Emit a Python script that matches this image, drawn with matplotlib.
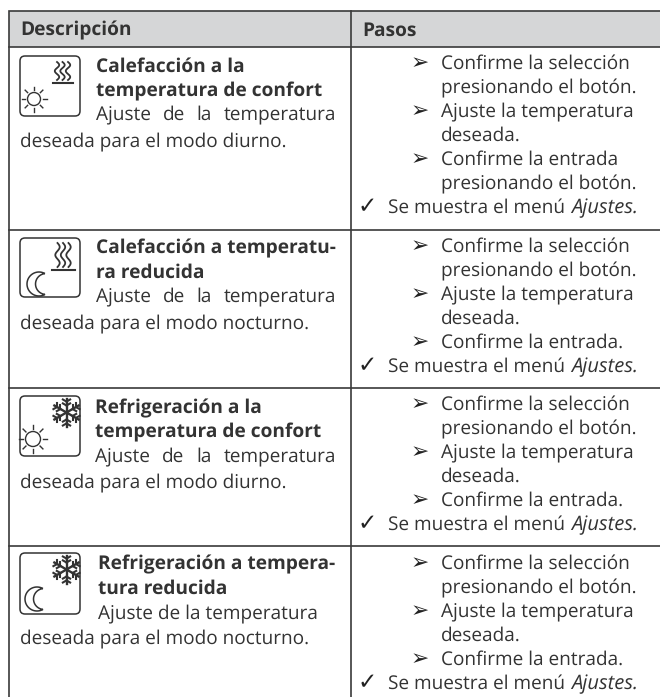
import numpy as np
import matplotlib
matplotlib.use("Agg")
import matplotlib.pyplot as plt
from matplotlib.patches import FancyBboxPatch, Rectangle, Circle, PathPatch
from matplotlib.path import Path

plt.rcParams['font.family'] = ['Open Sans', 'DejaVu Sans']
plt.rcParams['text.hinting'] = 'none'

# table content
headers = ["Descripción", "Pasos"]
titles = [
    ["Calefacción a la", "temperatura de confort"],
    ["Calefacción a temperatu-", "ra reducida"],
    ["Refrigeración a la", "temperatura de confort"],
    ["Refrigeración a tempera-", "tura reducida"],
]
adjust_lines = ["Ajuste de la temperatura"] * 4
mode_lines = [
    "deseada para el modo diurno.",
    "deseada para el modo nocturno.",
    "deseada para el modo diurno.",
    "deseada para el modo nocturno.",
]
steps = [
    [">Confirme la selección", " presionando el botón.", ">Ajuste la temperatura", " deseada.",
     ">Confirme la entrada", " presionando el botón."],
    [">Confirme la selección", " presionando el botón.", ">Ajuste la temperatura", " deseada.",
     ">Confirme la entrada."],
    [">Confirme la selección", " presionando el botón.", ">Ajuste la temperatura", " deseada.",
     ">Confirme la entrada."],
    [">Confirme la selección", " presionando el botón.", ">Ajuste la temperatura", " deseada.",
     ">Confirme la entrada."],
]
result_text = "Se muestra el menú "
result_italic = "Ajustes."
icon_top = ["heat", "heat", "snow", "snow"]
icon_bottom = ["sun", "moon", "sun", "moon"]

# layout in pixels
W, H = 660, 697
INK = "#333333"
LINE = "#3a3a3a"
FS = 13.7
FS_BOLD = 13.8
left_x, mid_x = 9, 351
top_y, head_y = 11, 47
row_seps = [229.5, 387.5, 545.5]
box_tops = [56, 238, 396, 553]
box_h = [60, 59, 60, 61]
title_x = [96, 96, 95, 98]
title_y = [[71.5, 96], [253.5, 277.5], [413.5, 437], [569, 594]]
adjust_y = [120, 302, 462, 619]
mode_y = [146.5, 328.5, 487.5, 643.5]
step_y0 = [69, 252, 410, 569]
step_dy = 24.05
justified = [True, True, True, False]
moon_x = [0, 39, 0, 37]

fig = plt.figure(figsize=(W / 100, H / 100), dpi=100)
ax = fig.add_axes([0, 0, 1, 1])
ax.set_xlim(0, W)
ax.set_ylim(H, 0)
ax.axis("off")

# header and grid
ax.add_patch(Rectangle((left_x, top_y), W - left_x, head_y - top_y, fc="#d5d6d7", ec="none", zorder=0))
ax.plot([W, left_x, left_x], [top_y, top_y, H], color=LINE, lw=1.2, solid_joinstyle="miter")
ax.plot([mid_x, mid_x], [top_y, H], color=LINE, lw=1.2)
for y in [head_y] + row_seps:
    ax.plot([left_x, W], [y, y], color=LINE, lw=1.2)

ax.text(20, 35.5, headers[0], fontsize=FS_BOLD, fontweight="bold", color=INK)
ax.text(362, 35.5, headers[1], fontsize=FS_BOLD, fontweight="bold", color=INK)

renderer = fig.canvas.get_renderer()


def text_width(artist):
    box = artist.get_window_extent(renderer)
    return box.width


def justify(words, x0, x1, y):
    arts = [ax.text(x0, y, w, fontsize=FS, color=INK) for w in words]
    widths = [text_width(a) for a in arts]
    gap = (x1 - x0 - sum(widths)) / (len(words) - 1)
    x = x0
    for a, w in zip(arts, widths):
        a.set_x(x)
        x += w + gap


def draw_heat(x, y, big):
    # three waves and a bar, y is the top of the waves
    h = 24 if big else 18
    bar = 23 if big else 20
    t = np.linspace(0, 1, 60)
    for dx in (-5.5, 0, 5.5):
        ax.plot(x + dx + 2.2 * np.sin(t * 3 * np.pi), y + t * h, color=INK, lw=1.3)
    ax.plot([x - bar / 2, x + bar / 2], [y + h + 2.5, y + h + 2.5], color=INK, lw=1.5)


def draw_sun(x, y, r, ray):
    ax.add_patch(Circle((x, y), r, fc="none", ec=INK, lw=1.0))
    for a in np.arange(8) * np.pi / 4:
        ax.plot([x + (r + 2.5) * np.cos(a), x + ray * np.cos(a)],
                [y + (r + 2.5) * np.sin(a), y + ray * np.sin(a)], color=INK, lw=1.0)


def draw_moon(x, y, r):
    # crescent from two arcs that meet at the horns on the right
    a1 = np.linspace(np.radians(-60), np.radians(-300), 40)
    a2 = np.linspace(np.radians(-264.5), np.radians(-95.5), 40)
    outer = np.c_[x + r * np.cos(a1), y + r * np.sin(a1)]
    inner = np.c_[x + r * 0.58 + r * 0.87 * np.cos(a2), y + r * 0.87 * np.sin(a2)]
    pts = np.vstack([outer, inner, outer[:1]])
    ax.add_patch(PathPatch(Path(pts), fc="none", ec=INK, lw=1.1))


def draw_snow(x, y, r):
    for a in np.arange(6) * np.pi / 3 + np.pi / 6:
        ax.plot([x, x + r * np.cos(a)], [y, y + r * np.sin(a)], color=INK, lw=1.7)
        for f in (0.5, 0.78):
            bx, by = x + f * r * np.cos(a), y + f * r * np.sin(a)
            for s in (-1, 1):
                ax.plot([bx, bx + 0.3 * r * np.cos(a + s * np.pi / 3)],
                        [by, by + 0.3 * r * np.sin(a + s * np.pi / 3)], color=INK, lw=1.5)


for i in range(4):
    # icon box
    ax.add_patch(FancyBboxPatch((20 + 4, box_tops[i] + 4), 52, box_h[i] - 8,
                                boxstyle="round,pad=4,rounding_size=5",
                                fc="none", ec=INK, lw=1.1))
    if icon_top[i] == "heat":
        if i == 0:
            draw_heat(62.5, box_tops[i] + 6, False)
        else:
            draw_heat(63, box_tops[i] + 5, True)
    else:
        draw_snow(66.5, box_tops[i] + 16.5, 14)
    if icon_bottom[i] == "sun":
        if i == 0:
            draw_sun(34, box_tops[i] + 43, 6.5, 12.5)
        else:
            draw_sun(33, box_tops[i] + 43, 7.5, 14)
    else:
        draw_moon(moon_x[i], box_tops[i] + 46, 12)

    # left column text
    for t, y in zip(titles[i], title_y[i]):
        ax.text(title_x[i], y, t, fontsize=FS_BOLD, fontweight="bold", color=INK)
    if justified[i]:
        justify(adjust_lines[i].split(), title_x[i], 336, adjust_y[i])
    else:
        ax.text(title_x[i], adjust_y[i], adjust_lines[i], fontsize=FS, color=INK)
    ax.text(20, mode_y[i], mode_lines[i], fontsize=FS, color=INK)

    # right column text
    y = step_y0[i]
    for line in steps[i]:
        if line[0] == ">":
            ax.text(411, y, "\u27a2", fontsize=FS + 2, color="#222222", family=["DejaVu Sans"])
        ax.text(441, y, line[1:], fontsize=FS, color=INK)
        y += step_dy
    ax.text(358, y, "\u2713", fontsize=FS + 3, color="#222222", family=["DejaVu Sans"])
    res = ax.text(388.5, y, result_text, fontsize=FS, color=INK)
    ax.text(388.5 + text_width(res) + 1, y, result_italic, fontsize=FS + 0.8, color=INK, style="italic")

fig.savefig("out.png", dpi=100, facecolor="white")
